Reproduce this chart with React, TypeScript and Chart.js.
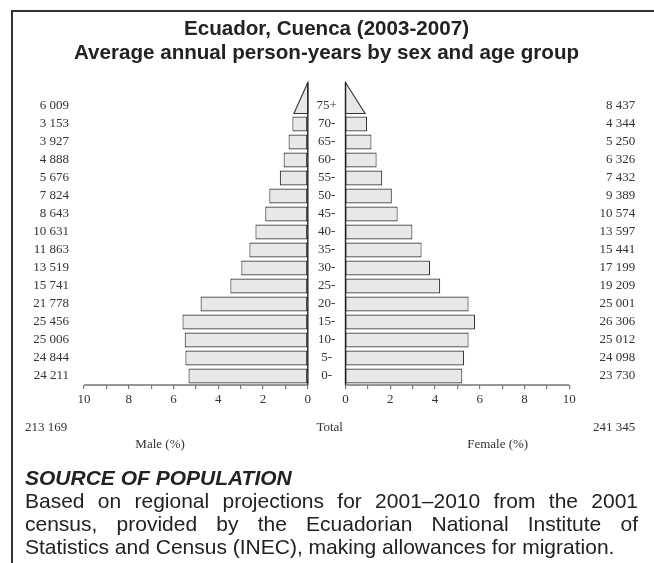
import React, { useEffect, useRef } from 'react';
import { Chart, registerables } from 'chart.js';

Chart.register(...registerables);

// ---- data ----
const AGE_GROUPS = ['0-', '5-', '10-', '15-', '20-', '25-', '30-', '35-', '40-', '45-', '50-', '55-', '60-', '65-', '70-', '75+'];
const MALE_COUNTS = [24211, 24844, 25006, 25456, 21778, 15741, 13519, 11863, 10631, 8643, 7824, 5676, 4888, 3927, 3153, 6009];
const FEMALE_COUNTS = [23730, 24098, 25012, 26306, 25001, 19209, 17199, 15441, 13597, 10574, 9389, 7432, 6326, 5250, 4344, 8437];
const MALE_PCT = [5.33, 5.47, 5.5, 5.6, 4.79, 3.46, 2.97, 2.61, 2.34, 1.9, 1.72, 1.25, 1.08, 0.86, 0.69, 1.32];
const FEMALE_PCT = [5.22, 5.3, 5.5, 5.79, 5.5, 4.23, 3.78, 3.4, 2.99, 2.33, 2.07, 1.64, 1.39, 1.16, 0.96, 1.86];
const MALE_TOTAL = 213169;
const FEMALE_TOTAL = 241345;
const X_TICK_STEP = 1;
const X_MAX = 10;

const TITLE = ['Ecuador, Cuenca (2003-2007)', 'Average annual person-years by sex and age group'];
const SOURCE_HEAD = 'SOURCE OF POPULATION';
const SOURCE_LINES = [
  'Based on regional projections for 2001\u20132010 from the 2001',
  'census, provided by the Ecuadorian National Institute of',
  'Statistics and Census (INEC), making allowances for migration.',
];

// ---- style constants ----
const GAP = 1.685; // gap between the two half axes, in axis units
const TRI = 0.47; // base of open-ended triangle relative to its value
const BAR_FILL = '#e8e8e8';
const BAR_LINE = '#333333';
const SERIF = '"Liberation Serif", "Times New Roman", serif';
const SANS = '"Liberation Sans", Arial, Helvetica, sans-serif';
const LAST = AGE_GROUPS.length - 1;

const fmt = (n: number) => String(n).replace(/\B(?=(\d{3})+(?!\d))/g, ' ');

const pyramidPlugin = {
  id: 'pyramid',
  afterDatasetsDraw(chart: any) {
    const { ctx, chartArea: ca } = chart;
    const xs = chart.scales.x;
    const ys = chart.scales.y;
    const band = Math.abs(ys.getPixelForValue(1) - ys.getPixelForValue(0));
    const barH = band * 0.83;
    const x0 = xs.getPixelForValue(0);
    const xG = xs.getPixelForValue(GAP);
    const yc = ys.getPixelForValue(LAST);
    const baseY = yc + barH / 2;
    const apexY = baseY - band * 1.72;

    ctx.save();
    // open-ended age group triangles
    ctx.fillStyle = BAR_FILL;
    ctx.strokeStyle = BAR_LINE;
    ctx.lineWidth = 1.1;
    ctx.beginPath();
    ctx.moveTo(x0, apexY);
    ctx.lineTo(xs.getPixelForValue(-MALE_PCT[LAST] * TRI), baseY);
    ctx.lineTo(x0, baseY);
    ctx.closePath();
    ctx.fill();
    ctx.stroke();
    ctx.beginPath();
    ctx.moveTo(xG, apexY);
    ctx.lineTo(xs.getPixelForValue(GAP + FEMALE_PCT[LAST] * TRI), baseY);
    ctx.lineTo(xG, baseY);
    ctx.closePath();
    ctx.fill();
    ctx.stroke();

    // vertical zero lines
    ctx.strokeStyle = '#222';
    ctx.lineWidth = 1.4;
    ctx.beginPath();
    ctx.moveTo(x0, apexY);
    ctx.lineTo(x0, ca.bottom);
    ctx.moveTo(xG, apexY);
    ctx.lineTo(xG, ca.bottom);
    ctx.stroke();

    // horizontal axis lines (two halves)
    ctx.strokeStyle = '#777';
    ctx.lineWidth = 1.4;
    ctx.beginPath();
    ctx.moveTo(xs.getPixelForValue(-X_MAX), ca.bottom);
    ctx.lineTo(x0, ca.bottom);
    ctx.moveTo(xG, ca.bottom);
    ctx.lineTo(xs.getPixelForValue(GAP + X_MAX), ca.bottom);
    ctx.stroke();

    // labels
    ctx.font = `13px ${SERIF}`;
    ctx.fillStyle = '#333';
    ctx.textBaseline = 'middle';
    AGE_GROUPS.forEach((age, i) => {
      const y = ys.getPixelForValue(i);
      ctx.textAlign = 'right';
      ctx.fillText(fmt(MALE_COUNTS[i]), ca.left - 15, y);
      ctx.fillText(fmt(FEMALE_COUNTS[i]), ca.right + 66, y);
      ctx.textAlign = 'center';
      ctx.fillText(age, (x0 + xG) / 2, y);
    });

    const yTot = ca.bottom + 43;
    ctx.textAlign = 'left';
    ctx.fillText(fmt(MALE_TOTAL), ca.left - 59, yTot);
    ctx.textAlign = 'center';
    ctx.fillText('Total', (x0 + xG) / 2 + 3, yTot);
    ctx.textAlign = 'right';
    ctx.fillText(fmt(FEMALE_TOTAL), ca.right + 66, yTot);

    const yLab = ca.bottom + 60;
    ctx.textAlign = 'center';
    ctx.fillText('Male (%)', xs.getPixelForValue(-6.6), yLab);
    ctx.fillText('Female (%)', xs.getPixelForValue(GAP + 6.8), yLab);
    ctx.restore();
  },
};

export default function App() {
  const ref = useRef<HTMLCanvasElement | null>(null);

  useEffect(() => {
    if (!ref.current) return;
    const chart = new Chart(ref.current, {
      type: 'bar',
      data: {
        labels: AGE_GROUPS,
        datasets: [
          {
            label: 'Male (%)',
            data: MALE_PCT.map((v) => -v),
            backgroundColor: (c: any) => (c.dataIndex === LAST ? 'rgba(0,0,0,0)' : BAR_FILL),
            borderColor: (c: any) => (c.dataIndex === LAST ? 'rgba(0,0,0,0)' : BAR_LINE),
            borderWidth: 1.1,
            borderSkipped: false,
            barPercentage: 0.83,
            categoryPercentage: 1,
            grouped: false,
          } as any,
          {
            label: 'Female (%)',
            data: FEMALE_PCT.map((v) => [GAP, GAP + v]),
            backgroundColor: (c: any) => (c.dataIndex === LAST ? 'rgba(0,0,0,0)' : BAR_FILL),
            borderColor: (c: any) => (c.dataIndex === LAST ? 'rgba(0,0,0,0)' : BAR_LINE),
            borderWidth: 1.1,
            borderSkipped: false,
            barPercentage: 0.83,
            categoryPercentage: 1,
            grouped: false,
          } as any,
        ],
      },
      options: {
        indexAxis: 'y',
        animation: false,
        responsive: false,
        devicePixelRatio: 1,
        layout: { padding: { left: 84, right: 84.7, top: 97, bottom: 148 } },
        plugins: {
          legend: { display: false },
          tooltip: { enabled: false },
          title: { display: false },
        },
        scales: {
          x: {
            type: 'linear',
            min: -X_MAX,
            max: X_MAX + GAP,
            afterBuildTicks: (s: any) => {
              const t: any[] = [];
              for (let v = -X_MAX; v <= 0; v += X_TICK_STEP) t.push({ value: v });
              for (let v = 0; v <= X_MAX; v += X_TICK_STEP) t.push({ value: GAP + v });
              s.ticks = t;
            },
            afterFit: (s: any) => {
              s.height = 30;
            },
            ticks: {
              autoSkip: false,
              maxRotation: 0,
              padding: 3,
              color: '#333',
              font: { family: SERIF, size: 13 },
              callback: (value: any) => {
                const n = Number(value);
                const v = Math.round(n < GAP / 2 ? -n : n - GAP);
                return v % 2 === 0 ? String(Math.abs(v)) : '';
              },
            },
            grid: { drawOnChartArea: false, drawTicks: true, tickLength: 4, color: '#777', lineWidth: 1.2 },
            border: { display: false },
          },
          y: {
            type: 'category',
            reverse: true,
            display: false,
            grid: { display: false },
          },
        },
      },
      plugins: [pyramidPlugin],
    } as any);
    return () => chart.destroy();
  }, []);

  return (
    <div style={{ position: 'absolute', left: 0, top: 0, width: 654, height: 563, overflow: 'hidden', background: '#fff' }}>
      <div
        style={{
          position: 'absolute',
          left: 11,
          top: 10,
          width: 700,
          height: 600,
          borderLeft: '2px solid #333',
          borderTop: '2px solid #333',
        }}
      />
      <canvas ref={ref} width={654} height={563} style={{ position: 'absolute', left: 0, top: 0, width: 654, height: 563 }} />
      <div
        style={{
          position: 'absolute',
          left: 0,
          top: 16,
          width: 653,
          textAlign: 'center',
          fontFamily: SANS,
          fontWeight: 'bold',
          fontSize: 20.6,
          lineHeight: '24px',
          color: '#222',
          whiteSpace: 'nowrap',
        }}
      >
        {TITLE.map((t, i) => (
          <div key={i}>{t}</div>
        ))}
      </div>
      <div
        style={{
          position: 'absolute',
          left: 25,
          top: 465.5,
          width: 613,
          fontFamily: SANS,
          fontSize: 21,
          lineHeight: '23px',
          color: '#222',
        }}
      >
        <div style={{ fontWeight: 'bold', fontStyle: 'italic' }}>{SOURCE_HEAD}</div>
        {SOURCE_LINES.map((l, i) => (
          <div
            key={i}
            style={{
              textAlign: 'justify',
              textAlignLast: i < SOURCE_LINES.length - 1 ? 'justify' : 'left',
              whiteSpace: 'nowrap',
            }}
          >
            {l}
          </div>
        ))}
      </div>
    </div>
  );
}
